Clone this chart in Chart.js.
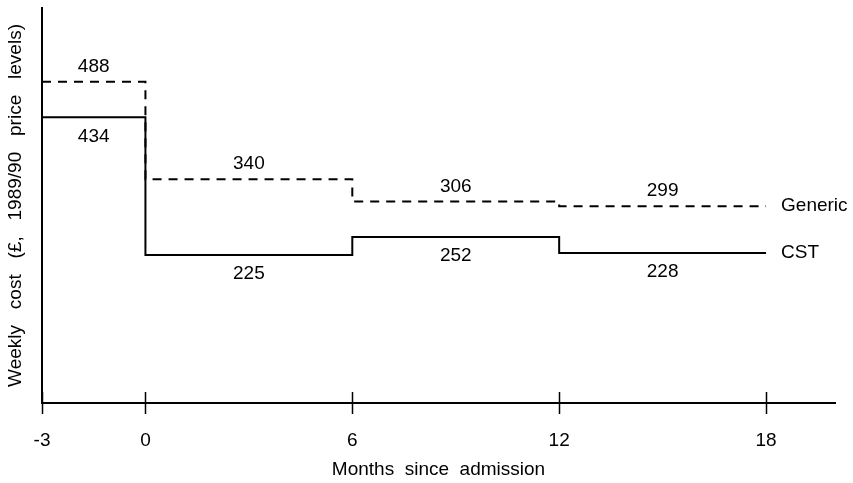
<!doctype html>
<html lang="en">
<head>
<meta charset="utf-8">
<title>Weekly cost by months since admission</title>
<style>
  body { margin: 0; background: #fff; }
</style>
</head>
<body>
<canvas id="myChart" width="853" height="483"></canvas>

<script src="https://cdn.jsdelivr.net/npm/chart.js"></script>
<script>
  // each step starts at one of these months and runs to the next one
  var monthStarts = [-3, 0, 6, 12];
  var monthEnd = 18;
  var monthTicks = [-3, 0, 6, 12, 18];
  var genericCost = [488, 340, 306, 299];
  var cstCost = [434, 225, 252, 228];
  var seriesNames = ['Generic', 'CST'];

  var fontFamily = '"Liberation Sans", Arial, Helvetica, sans-serif';
  var fontSize = 19;
  Chart.defaults.font.family = fontFamily;
  Chart.defaults.font.size = fontSize;
  Chart.defaults.color = '#000';

  function stepPoints(values) {
    var pts = [];
    for (var i = 0; i < monthStarts.length; i++) {
      pts.push({x: monthStarts[i], y: values[i]});
    }
    pts.push({x: monthEnd, y: values[values.length - 1]});
    return pts;
  }

  // cost over / under each step, series names at the right, ticks crossing the x axis
  var stepLabels = {
    id: 'stepLabels',
    afterDatasetsDraw: function(chart) {
      var ctx = chart.ctx;
      var xs = chart.scales.x;
      var ys = chart.scales.y;
      ctx.save();
      ctx.font = fontSize + 'px ' + fontFamily;
      ctx.fillStyle = '#000';
      ctx.textBaseline = 'middle';
      [genericCost, cstCost].forEach(function(values, s) {
        var shift = s === 0 ? -15 : 19;
        ctx.textAlign = 'center';
        for (var i = 0; i < values.length; i++) {
          var from = monthStarts[i];
          var to = i + 1 < monthStarts.length ? monthStarts[i + 1] : monthEnd;
          var px = (xs.getPixelForValue(from) + xs.getPixelForValue(to)) / 2;
          ctx.fillText(String(values[i]), px, ys.getPixelForValue(values[i]) + shift);
        }
        ctx.textAlign = 'left';
        ctx.fillText(seriesNames[s], xs.getPixelForValue(monthEnd) + 15,
                     ys.getPixelForValue(values[values.length - 1]));
      });

      ctx.strokeStyle = '#000';
      ctx.lineWidth = 1.5;
      ctx.beginPath();
      monthTicks.forEach(function(m) {
        var px = Math.round(xs.getPixelForValue(m)) + 0.5;
        ctx.moveTo(px, ys.bottom - 11);
        ctx.lineTo(px, ys.bottom + 11);
      });
      ctx.stroke();
      ctx.restore();
    }
  };

  new Chart(document.getElementById('myChart'), {
    type: 'line',
    data: {
      datasets: [
        {
          label: seriesNames[0],
          data: stepPoints(genericCost),
          stepped: 'before',
          borderColor: '#000',
          borderWidth: 2,
          borderDash: [9, 7],
          pointRadius: 0,
          fill: false
        },
        {
          label: seriesNames[1],
          data: stepPoints(cstCost),
          stepped: 'before',
          borderColor: '#000',
          borderWidth: 2,
          pointRadius: 0,
          fill: false
        }
      ]
    },
    options: {
      responsive: false,
      animation: false,
      layout: { padding: { top: 8, right: 18, bottom: 0, left: 0 } },
      plugins: {
        legend: { display: false },
        tooltip: { enabled: false }
      },
      scales: {
        x: {
          type: 'linear',
          min: -3,
          max: 20,
          afterBuildTicks: function(scale) {
            scale.ticks = monthTicks.map(function(v) { return {value: v}; });
          },
          afterFit: function(scale) { scale.height = 80; },
          grid: { display: false },
          border: { color: '#000', width: 2 },
          ticks: { padding: 18, autoSkip: false, maxRotation: 0 },
          title: {
            display: true,
            text: 'Months  since  admission',
            padding: { top: 4, bottom: 2 }
          }
        },
        y: {
          min: 0,
          max: 600,
          afterFit: function(scale) { scale.width = 42; },
          grid: { display: false },
          border: { color: '#000', width: 2 },
          ticks: { display: false },
          title: {
            display: true,
            text: 'Weekly   cost   (£,   1989/90   price   levels)',
            padding: { top: 4, bottom: 0 }
          }
        }
      }
    },
    plugins: [stepLabels]
  });
</script>
</body>
</html>
